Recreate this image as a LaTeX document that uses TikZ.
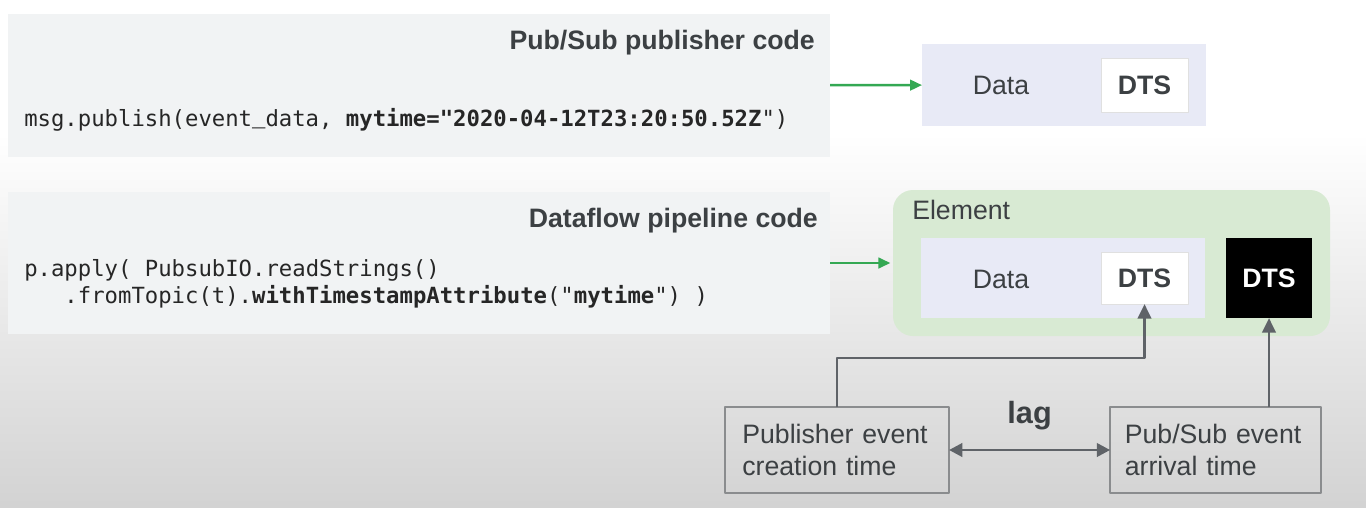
\documentclass[tikz,border=0pt]{standalone}
\usepackage{fontspec}
\setmainfont{Liberation Sans}
\setmonofont{DejaVu Sans Mono}
\newfontfamily\lowbar{Liberation Mono}
\usetikzlibrary{arrows.meta,fit}
\definecolor{codegray}{HTML}{F1F3F4}
\definecolor{lavender}{HTML}{E8EAF6}
\definecolor{elgreen}{HTML}{D8EAD3}
\definecolor{gogreen}{HTML}{34A853}
\definecolor{arrgray}{HTML}{5F6368}
\definecolor{txtgray}{HTML}{3C4043}
\definecolor{bgbottom}{HTML}{C4C4C4}
\definecolor{boxline}{HTML}{8A8C8E}

\begin{document}
\begin{tikzpicture}[x=0.75pt,y=-0.75pt,line join=round,
    flatbox/.style={inner sep=0pt,outer sep=0pt},
    codebox/.style={flatbox,fill=codegray},
    databox/.style={flatbox,fill=lavender},
    dtsbox/.style={flatbox,fill=white,draw=black!12,line width=0.75pt,text=txtgray,
        minimum width=65.25pt,font=\fontsize{20}{24}\selectfont\bfseries},
    blackdts/.style={flatbox,fill=black,text=white,minimum width=64.5pt,minimum height=60pt,
        font=\fontsize{20}{24}\selectfont\bfseries},
    elbox/.style={flatbox,fill=elgreen,rounded corners=15pt},
    heading/.style={inner sep=0pt,text=txtgray,font=\fontsize{20}{24}\selectfont\bfseries},
    plain/.style={inner sep=0pt,text=txtgray,font=\fontsize{20}{24}\selectfont},
    codetext/.style={inner sep=0pt,text=black!85,align=left,font=\fontsize{16.7}{20.25}\selectfont\ttfamily},
    timebox/.style={draw=boxline,line width=1.2pt,inner ysep=0pt,outer sep=0pt,
        minimum height=64.5pt,align=left,text=txtgray,font=\fontsize{20}{24}\selectfont},
    greenarrow/.style={draw=gogreen,line width=1.8pt,-{Triangle[length=9pt,width=8pt]}},
    grayarrow/.style={draw=arrgray,line width=2.2pt,-{Triangle[length=11pt,width=10pt]}},
    lagarrow/.style={draw=arrgray,line width=2.2pt,
        {Triangle[length=10pt,width=10pt]}-{Triangle[length=10pt,width=10pt]}}]
    \useasboundingbox (0,0) rectangle (1366,507);
    \begin{scope}
        \clip (0,0) rectangle (1366,507);
        \fill[white] (0,0) rectangle (1366,260);
        \shade[top color=white,bottom color=bgbottom] (0,133) rectangle (1366,632);
    \end{scope}

    \node[codebox,fit={(8,14) (830,157)}] (pubbox) {};
    \node[heading,anchor=east] (pubtitle) at (815,43) {Pub/Sub publisher code};
    \node[codetext,anchor=west] (pubcode) at (24,120)
        {msg.publish(event{\lowbar\char95}data, \textbf{mytime="2020-04-12T23:20:50.52Z}")};
    \node[databox,fit={(922,44) (1206,126)}] (msg) {};
    \node[plain] (msgdata) at (1001,85) {Data};
    \node[dtsbox,minimum height=40.5pt] (msgdts) at (1144.5,85) {DTS};
    \draw[greenarrow] (pubbox) -- (msg);

    \node[codebox,fit={(8,192) (830,334)}] (pipebox) {};
    \node[heading,anchor=east] (pipetitle) at (818,221) {Dataflow pipeline code};
    \node[codetext,anchor=west] (pipecode) at (24,283.5)
        {p.apply( PubsubIO.readStrings()\\
        \ \ \ .fromTopic(t).\textbf{withTimestampAttribute}("\textbf{mytime}") )};
    \node[elbox,fit={(893,190) (1330,336)}] (element) {};
    \node[plain,anchor=west] (eltitle) at (912,210) {Element};
    \node[databox,fit={(921,238) (1205,318)}] (eldata) {};
    \node[plain] (eldatatext) at (1001,279) {Data};
    \node[dtsbox,minimum height=39pt] (eldts) at (1144.5,278) {DTS};
    \node[blackdts] (evdts) at (1269,278) {DTS};
    \draw[greenarrow,shorten >=2pt] (pipebox) -- (element);

    \node[timebox,inner xsep=13pt,text width=142pt] (pubtime) at (837,450) {Publisher event\\creation time};
    \node[timebox,inner xsep=11pt,text width=136pt] (arrtime) at (1215.5,450) {Pub/Sub event\\arrival time};
    \draw[grayarrow] (pubtime.north) -- ++(0,-49) -| (eldts.south);
    \draw[grayarrow] (arrtime.north -| evdts.south) -- (evdts.south);
    \draw[lagarrow] (pubtime) -- (arrtime)
        node[midway,yshift=26pt,inner sep=0pt,text=txtgray,font=\fontsize{23}{27}\selectfont\bfseries] (lag) {lag};
\end{tikzpicture}
\end{document}
